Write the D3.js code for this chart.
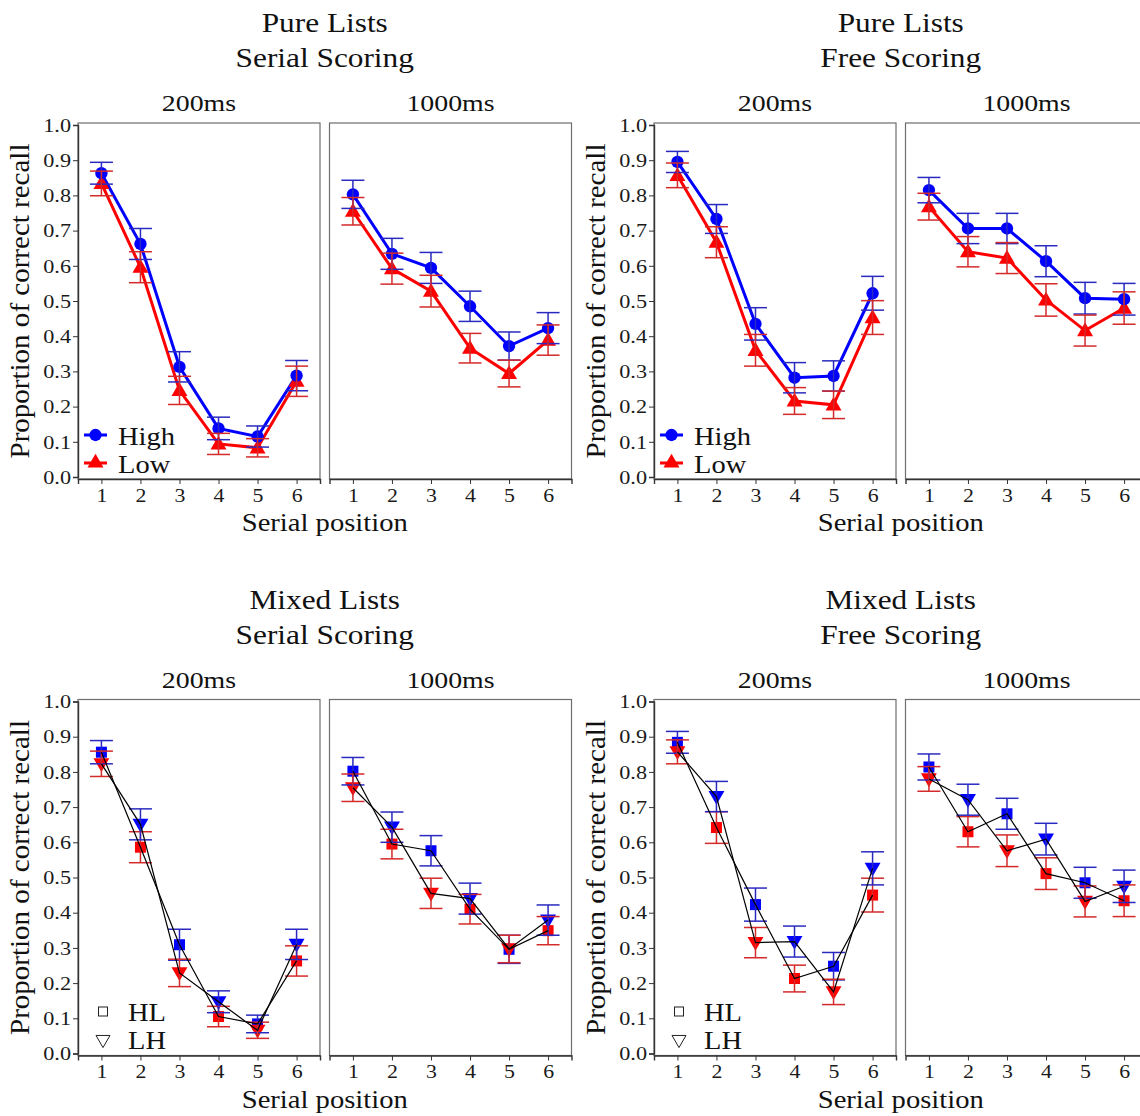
<!DOCTYPE html>
<html><head><meta charset="utf-8">
<script src="https://cdn.jsdelivr.net/npm/d3@7"></script>
<style>body{margin:0;background:#fff}svg{display:block}</style>
</head><body>
<svg id="chart" width="1140" height="1116"></svg>
<script>
// ---------- data ----------
const positions = [1, 2, 3, 4, 5, 6];
const yTickValues = [0, 0.1, 0.2, 0.3, 0.4, 0.5, 0.6, 0.7, 0.8, 0.9, 1.0];
const durations = ["200ms", "1000ms"];
const pureLegend = ["High", "Low"];
const mixedLegend = ["HL", "LH"];
const hlFrequency = ["High", "Low", "High", "Low", "High", "Low"];
const lhFrequency = ["Low", "High", "Low", "High", "Low", "High"];

// Pure lists, serial scoring
const pureSerial200High = [0.863, 0.662, 0.313, 0.138, 0.115, 0.288];
const pureSerial200HighErr = [0.031, 0.044, 0.043, 0.032, 0.030, 0.043];
const pureSerial200Low = [0.834, 0.596, 0.246, 0.094, 0.083, 0.272];
const pureSerial200LowErr = [0.035, 0.044, 0.040, 0.030, 0.026, 0.043];
const pureSerial1000High = [0.803, 0.634, 0.594, 0.485, 0.372, 0.423];
const pureSerial1000HighErr = [0.040, 0.044, 0.044, 0.043, 0.040, 0.044];
const pureSerial1000Low = [0.755, 0.592, 0.528, 0.366, 0.294, 0.389];
const pureSerial1000LowErr = [0.039, 0.044, 0.045, 0.042, 0.038, 0.043];
// Pure lists, free scoring
const pureFree200High = [0.895, 0.733, 0.435, 0.282, 0.287, 0.522];
const pureFree200HighErr = [0.030, 0.041, 0.046, 0.043, 0.043, 0.048];
const pureFree200Low = [0.857, 0.667, 0.360, 0.216, 0.205, 0.453];
const pureFree200LowErr = [0.035, 0.044, 0.045, 0.038, 0.039, 0.048];
const pureFree1000High = [0.815, 0.706, 0.706, 0.613, 0.508, 0.505];
const pureFree1000HighErr = [0.036, 0.043, 0.043, 0.044, 0.045, 0.045];
const pureFree1000Low = [0.768, 0.640, 0.622, 0.503, 0.416, 0.480];
const pureFree1000LowErr = [0.038, 0.043, 0.044, 0.046, 0.044, 0.046];
// Mixed lists, serial scoring
const mixedSerial200HL = [0.856, 0.586, 0.309, 0.105, 0.084, 0.263];
const mixedSerial200HLErr = [0.033, 0.044, 0.044, 0.029, 0.025, 0.043];
const mixedSerial200LH = [0.823, 0.651, 0.229, 0.147, 0.066, 0.310];
const mixedSerial200LHErr = [0.036, 0.044, 0.039, 0.031, 0.023, 0.043];
const mixedSerial1000HL = [0.802, 0.595, 0.576, 0.410, 0.296, 0.349];
const mixedSerial1000HLErr = [0.039, 0.042, 0.043, 0.042, 0.040, 0.040];
const mixedSerial1000LH = [0.755, 0.643, 0.455, 0.440, 0.297, 0.379];
const mixedSerial1000LHErr = [0.039, 0.043, 0.043, 0.044, 0.039, 0.043];
// Mixed lists, free scoring
const mixedFree200HL = [0.884, 0.642, 0.423, 0.213, 0.248, 0.450];
const mixedFree200HLErr = [0.031, 0.045, 0.047, 0.038, 0.039, 0.048];
const mixedFree200LH = [0.857, 0.730, 0.315, 0.318, 0.175, 0.526];
const mixedFree200LHErr = [0.034, 0.043, 0.043, 0.044, 0.036, 0.047];
const mixedFree1000HL = [0.814, 0.630, 0.681, 0.511, 0.485, 0.434];
const mixedFree1000HLErr = [0.037, 0.043, 0.044, 0.045, 0.044, 0.045];
const mixedFree1000LH = [0.780, 0.721, 0.576, 0.609, 0.432, 0.475];
const mixedFree1000LHErr = [0.035, 0.044, 0.045, 0.045, 0.044, 0.046];

// ---------- styling ----------
const FONT = "'Liberation Serif', 'Times New Roman', 'DejaVu Serif', serif";
const freqColor = { High: "#0000ff", Low: "#ff0000" };
const errColor = { High: "#2a2ac0", Low: "#d42a2a" };

const svg = d3.select("#chart").style("font-family", FONT);

const x = d3.scaleLinear().domain([0.4, 6.6]).range([0, 242]);
const y = d3.scaleLinear().domain([0, 1]).range([354, 2]);
const panelW = 242, panelH = 356;
const panelLefts = [78, 329.5];
const panelTop = 123;

// widen glyphs horizontally (the reference typeface is wider than Times)
function widen(sel, factor) {
  sel.each(function () {
    const w = this.getComputedTextLength();
    d3.select(this).attr("textLength", w * factor).attr("lengthAdjust", "spacingAndGlyphs");
  });
  return sel;
}

function zipSeries(vals, errs, freq) {
  return positions.map((p, i) => ({ pos: p, v: vals[i], e: errs[i], f: freq[i] }));
}

function drawBlock(ox, oy, title1, title2, type, panels) {
  const g = svg.append("g").attr("transform", `translate(${ox},${oy})`);
  const cx = (panelLefts[0] + panelLefts[1] + panelW) / 2;
  widen(g.append("text").attr("x", cx).attr("y", 32).attr("text-anchor", "middle")
    .attr("font-size", 27).attr("fill", "#111").text(title1), 1.16);
  widen(g.append("text").attr("x", cx).attr("y", 67).attr("text-anchor", "middle")
    .attr("font-size", 27).attr("fill", "#111").text(title2), 1.16);
  widen(g.append("text").attr("x", cx).attr("y", 531).attr("text-anchor", "middle")
    .attr("font-size", 26).attr("fill", "#111").text("Serial position"), 1.1);
  const yt = g.append("text").attr("transform", `translate(29,${panelTop + panelH / 2}) rotate(-90)`)
    .attr("text-anchor", "middle").attr("font-size", 28).attr("fill", "#111").text("Proportion of correct recall");
  yt.attr("textLength", 315).attr("lengthAdjust", "spacingAndGlyphs");

  panels.forEach((pd, pi) => {
    const pg = g.append("g").attr("transform", `translate(${panelLefts[pi]},${panelTop})`);
    widen(g.append("text").attr("x", panelLefts[pi] + panelW / 2).attr("y", 111)
      .attr("text-anchor", "middle").attr("font-size", 24).attr("fill", "#111").text(durations[pi]), 1.16);
    pg.append("rect").attr("width", panelW).attr("height", panelH)
      .attr("fill", "none").attr("stroke", "#6e6e6e").attr("stroke-width", 1.2);

    const xa = pg.append("g").attr("transform", `translate(0,${panelH})`)
      .call(d3.axisBottom(x).tickValues(positions).tickFormat(d3.format("d")).tickSize(5).tickPadding(4));
    xa.attr("font-family", FONT);
    xa.select(".domain").attr("stroke", "#333").attr("stroke-width", 1.4);
    xa.selectAll(".tick line").attr("stroke", "#333");
    widen(xa.selectAll("text").attr("font-size", 19.5).attr("font-family", FONT).attr("fill", "#1a1a1a"), 1.12);
    if (pi === 0) {
      const ya = pg.append("g")
        .call(d3.axisLeft(y).tickValues(yTickValues).tickFormat(d3.format(".1f")).tickSize(5).tickPadding(2));
      ya.attr("font-family", FONT);
      ya.select(".domain").attr("stroke", "#333").attr("stroke-width", 1.4);
      ya.selectAll(".tick line").attr("stroke", "#333");
      widen(ya.selectAll("text").attr("font-size", 19.5).attr("font-family", FONT).attr("fill", "#1a1a1a"), 1.14);
    }

    const series = pd;
    const line = d3.line().x(d => x(d.pos)).y(d => y(d.v));
    const drawErr = (data) => {
      const eg = pg.append("g");
      data.forEach(d => {
        const c = errColor[d.f];
        const xx = x(d.pos), cw = 11.5;
        eg.append("line").attr("x1", xx).attr("x2", xx).attr("y1", y(d.v + d.e)).attr("y2", y(d.v - d.e))
          .attr("stroke", c).attr("stroke-width", 1.5);
        [d.v + d.e, d.v - d.e].forEach(yy => {
          eg.append("line").attr("x1", xx - cw).attr("x2", xx + cw).attr("y1", y(yy)).attr("y2", y(yy))
            .attr("stroke", c).attr("stroke-width", 1.5);
        });
      });
    };
    const drawPts = (data, shape) => {
      pg.append("g").selectAll("path").data(data).join("path")
        .attr("d", d3.symbol().type(shape === "circle" ? d3.symbolCircle : shape === "square" ? d3.symbolSquare : d3.symbolTriangle)
          .size(shape === "circle" ? 120 : shape === "square" ? 121 : 110))
        .attr("transform", d => `translate(${x(d.pos)},${y(d.v) + (shape === "down" ? -1 : shape === "up" ? 1 : 0)})${shape === "down" ? " rotate(180)" : ""}`)
        .attr("fill", d => freqColor[d.f]);
    };

    if (type === "pure") {
      series.forEach(s => {
        pg.append("path").datum(s.data).attr("d", line).attr("fill", "none")
          .attr("stroke", freqColor[s.data[0].f]).attr("stroke-width", 3);
      });
      series.forEach(s => drawPts(s.data, s.shape));
      series.slice().reverse().forEach(s => drawErr(s.data));
    } else {
      series.forEach(s => drawPts(s.data, s.shape));
      series.forEach(s => drawErr(s.data));
      series.forEach(s => {
        pg.append("path").datum(s.data).attr("d", line).attr("fill", "none")
          .attr("stroke", "#000").attr("stroke-width", 1.2);
      });
    }
  });

  // legend inside the first panel
  const lg = g.append("g");
  if (type === "pure") {
    const items = [{ lab: pureLegend[0], y: 435, shape: d3.symbolCircle, size: 120, f: "High" },
                   { lab: pureLegend[1], y: 463, shape: d3.symbolTriangle, size: 110, f: "Low" }];
    items.forEach(it => {
      lg.append("line").attr("x1", 84).attr("x2", 107).attr("y1", it.y).attr("y2", it.y)
        .attr("stroke", freqColor[it.f]).attr("stroke-width", 3);
      lg.append("path").attr("d", d3.symbol().type(it.shape).size(it.size)())
        .attr("transform", `translate(95.5,${it.y})`).attr("fill", freqColor[it.f]);
      widen(lg.append("text").attr("x", 118).attr("y", it.y + 9.5).attr("font-size", 25)
        .attr("fill", "#111").text(it.lab), 1.14);
    });
  } else {
    lg.append("rect").attr("x", 98.5).attr("y", 430.5).attr("width", 9).attr("height", 9)
      .attr("fill", "none").attr("stroke", "#222").attr("stroke-width", 1);
    widen(lg.append("text").attr("x", 128).attr("y", 444).attr("font-size", 25)
      .attr("fill", "#111").text(mixedLegend[0]), 1.14);
    lg.append("path").attr("d", d3.symbol().type(d3.symbolTriangle).size(85)())
      .attr("transform", "translate(103,463) rotate(180)")
      .attr("fill", "none").attr("stroke", "#222").attr("stroke-width", 1);
    widen(lg.append("text").attr("x", 128).attr("y", 472).attr("font-size", 25)
      .attr("fill", "#111").text(mixedLegend[1]), 1.14);
  }
}

drawBlock(0, 0, "Pure Lists", "Serial Scoring", "pure", [
  [{ data: zipSeries(pureSerial200Low, pureSerial200LowErr, Array(6).fill("Low")), shape: "up" },
   { data: zipSeries(pureSerial200High, pureSerial200HighErr, Array(6).fill("High")), shape: "circle" }],
  [{ data: zipSeries(pureSerial1000Low, pureSerial1000LowErr, Array(6).fill("Low")), shape: "up" },
   { data: zipSeries(pureSerial1000High, pureSerial1000HighErr, Array(6).fill("High")), shape: "circle" }]
]);
drawBlock(576, 0, "Pure Lists", "Free Scoring", "pure", [
  [{ data: zipSeries(pureFree200Low, pureFree200LowErr, Array(6).fill("Low")), shape: "up" },
   { data: zipSeries(pureFree200High, pureFree200HighErr, Array(6).fill("High")), shape: "circle" }],
  [{ data: zipSeries(pureFree1000Low, pureFree1000LowErr, Array(6).fill("Low")), shape: "up" },
   { data: zipSeries(pureFree1000High, pureFree1000HighErr, Array(6).fill("High")), shape: "circle" }]
]);
drawBlock(0, 576.5, "Mixed Lists", "Serial Scoring", "mixed", [
  [{ data: zipSeries(mixedSerial200HL, mixedSerial200HLErr, hlFrequency), shape: "square" },
   { data: zipSeries(mixedSerial200LH, mixedSerial200LHErr, lhFrequency), shape: "down" }],
  [{ data: zipSeries(mixedSerial1000HL, mixedSerial1000HLErr, hlFrequency), shape: "square" },
   { data: zipSeries(mixedSerial1000LH, mixedSerial1000LHErr, lhFrequency), shape: "down" }]
]);
drawBlock(576, 576.5, "Mixed Lists", "Free Scoring", "mixed", [
  [{ data: zipSeries(mixedFree200HL, mixedFree200HLErr, hlFrequency), shape: "square" },
   { data: zipSeries(mixedFree200LH, mixedFree200LHErr, lhFrequency), shape: "down" }],
  [{ data: zipSeries(mixedFree1000HL, mixedFree1000HLErr, hlFrequency), shape: "square" },
   { data: zipSeries(mixedFree1000LH, mixedFree1000LHErr, lhFrequency), shape: "down" }]
]);
</script>
</body></html>
